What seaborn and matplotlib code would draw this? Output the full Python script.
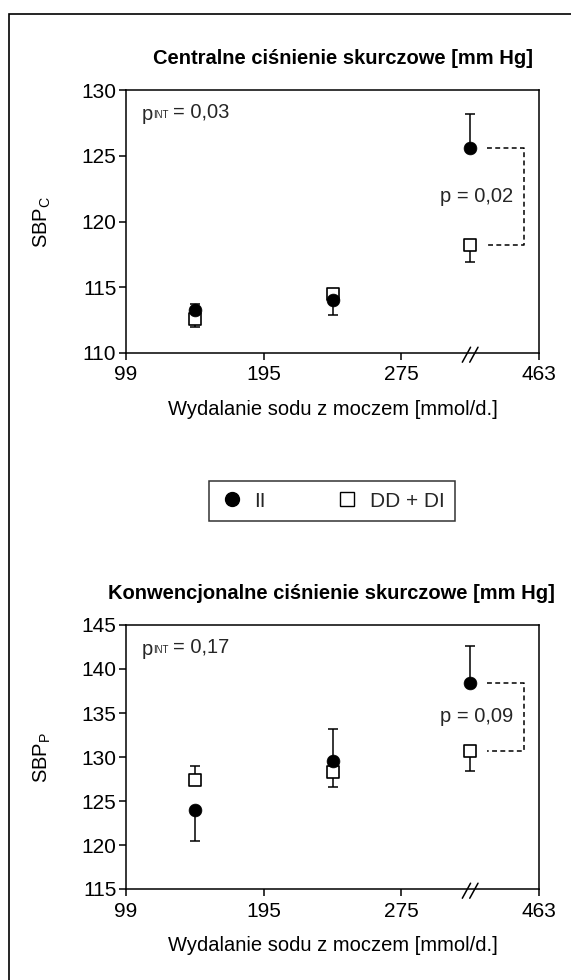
import matplotlib
matplotlib.use("Agg")
import matplotlib.pyplot as plt
import matplotlib.lines as mlines
from matplotlib.patches import Rectangle
import seaborn as sns
import pandas as pd
import numpy as np

# ---- data ----
sodium_ticks = ["99", "195", "275", "463"]
groups = ["II", "DD + DI"]

# central SBP
sbpc_II = [113.3, 114.0, 125.6]
sbpc_II_err_up = [0.4, 0.0, 2.6]
sbpc_II_err_dn = [0.0, 1.1, 0.0]
sbpc_DD = [112.6, 114.5, 118.2]
sbpc_DD_err_up = [0.0, 0.4, 0.0]
sbpc_DD_err_dn = [0.6, 0.0, 1.3]

# conventional SBP
sbpp_II = [124.0, 129.5, 138.4]
sbpp_II_err_up = [0.0, 3.7, 4.2]
sbpp_II_err_dn = [3.55, 0.0, 0.0]
sbpp_DD = [127.4, 128.3, 130.7]
sbpp_DD_err_up = [1.6, 0.0, 0.0]
sbpp_DD_err_dn = [0.0, 1.7, 2.3]

p_int = ["0,03", "0,17"]
p_last = ["0,02", "0,09"]
titles = ["Centralne ciśnienie skurczowe [mm Hg]",
          "Konwencjonalne ciśnienie skurczowe [mm Hg]"]
ylabels = [r"SBP$_\mathregular{C}$", r"SBP$_\mathregular{P}$"]
xlabel = "Wydalanie sodu z moczem [mmol/d.]"
ylims = [(110, 130), (115, 145)]

sns.set_theme(style="ticks")
FAM = ["Liberation Sans", "DejaVu Sans"]
plt.rcParams["font.family"] = FAM
plt.rcParams["mathtext.fontset"] = "custom"
plt.rcParams["mathtext.rm"] = "Liberation Sans"
FS = 14.5

fig = plt.figure(figsize=(5.71, 9.80), dpi=100)

# outer frame (right and bottom edges cut off)
fig.patches.append(Rectangle((9 / 571, -0.05), 1.2, 1 - 14 / 980 + 0.05,
                             transform=fig.transFigure, fill=False,
                             edgecolor="black", linewidth=1.2, zorder=0))

axes_rects = [[126 / 571, 1 - 353 / 980, 413 / 571, 263 / 980],
              [126 / 571, 1 - 889 / 980, 413 / 571, 264 / 980]]
title_x = [0.525, 0.497]

datasets = [
    (sbpc_II, sbpc_II_err_dn, sbpc_II_err_up, sbpc_DD, sbpc_DD_err_dn, sbpc_DD_err_up),
    (sbpp_II, sbpp_II_err_dn, sbpp_II_err_up, sbpp_DD, sbpp_DD_err_dn, sbpp_DD_err_up),
]

for i, rect in enumerate(axes_rects):
    ax = fig.add_axes(rect)
    yII, dII, uII, yDD, dDD, uDD = datasets[i]
    xpos = np.arange(len(yII)) + 0.5
    df = pd.DataFrame({
        "x": np.concatenate([xpos, xpos]),
        "y": yII + yDD,
        "g": [groups[0]] * 3 + [groups[1]] * 3,
    })
    ax.errorbar(xpos, yDD, yerr=[dDD, uDD], fmt="none", ecolor="black",
                elinewidth=1.1, capsize=3.3, capthick=1.1, zorder=1)
    ax.errorbar(xpos, yII, yerr=[dII, uII], fmt="none", ecolor="black",
                elinewidth=1.1, capsize=3.3, capthick=1.1, zorder=1)
    sns.scatterplot(data=df[df.g == groups[1]], x="x", y="y", marker="s",
                    s=72, color="white", edgecolor="black", linewidth=1.2,
                    ax=ax, zorder=4, legend=False)
    sns.scatterplot(data=df[df.g == groups[0]], x="x", y="y", marker="o",
                    s=85, color="black", edgecolor="black", linewidth=0.5,
                    ax=ax, zorder=5, legend=False)

    ax.set_xlim(0, 3)
    ax.set_ylim(*ylims[i])
    ax.set_xticks(range(4))
    ax.set_xticklabels(sodium_ticks)
    ax.set_yticks(np.arange(ylims[i][0], ylims[i][1] + 0.1, 5))
    ax.tick_params(axis="both", labelsize=15, length=5, width=1.1,
                   color="black", labelcolor="black", direction="out")
    ax.tick_params(axis="x", pad=4)
    ax.tick_params(axis="y", pad=2)
    for s in ax.spines.values():
        s.set_visible(True)
        s.set_color("black")
        s.set_linewidth(1.1)
    ax.set_xlabel(xlabel, fontsize=FS, labelpad=11, color="black")
    ax.set_ylabel(ylabels[i], fontsize=FS, labelpad=20, color="black")
    ax.set_title(titles[i], fontsize=14.5, fontweight="bold", pad=19,
                 color="black", x=title_x[i])

    # p_INT annotation: "p" + tiny "INT" + "= value"
    t1 = ax.text(0.038, 0.885, "p", transform=ax.transAxes, fontsize=FS,
                 ha="left", va="baseline")
    t2 = ax.annotate("INT", xy=(1, 0.22), xycoords=t1, fontsize=7,
                     ha="left", va="bottom", xytext=(0.3, 0),
                     textcoords="offset points")
    ax.annotate("= " + p_int[i], xy=(1, 0), xycoords=t2, fontsize=FS,
                ha="left", va="bottom", xytext=(3, -0.8),
                textcoords="offset points")

    # bracket between last pair
    xb0, xb1 = 2.62, 2.89
    ax.plot([xb0, xb1, xb1, xb0], [yII[2], yII[2], yDD[2], yDD[2]],
            color="black", linestyle=(0, (3.2, 2.2)), linewidth=1.1,
            zorder=1)
    ax.text(2.545, (yII[2] + yDD[2]) / 2, "p = " + p_last[i], fontsize=FS,
            ha="center", va="center")

    # axis break mark
    for dx in (-0.027, 0.027):
        ax.plot([2.5 + dx - 0.03, 2.5 + dx + 0.03], [-0.035, 0.022],
                transform=ax.get_xaxis_transform(), color="black",
                linewidth=1.1, clip_on=False, zorder=5)

# legend
h1 = mlines.Line2D([], [], color="black", marker="o", linestyle="none",
                   markersize=10)
h2 = mlines.Line2D([], [], color="black", marker="s", linestyle="none",
                   markersize=9.5, markerfacecolor="white",
                   markeredgewidth=1.0)
leg = fig.legend([h1, h2], groups, loc="center",
                 bbox_to_anchor=(332 / 571, 1 - 501 / 980), ncol=2,
                 frameon=True, fancybox=False, edgecolor="black",
                 fontsize=15, columnspacing=3.3, handletextpad=0.5,
                 borderpad=0.5, handlelength=1.2)
leg.get_frame().set_linewidth(1.1)

fig.savefig("out.png", dpi=100)
